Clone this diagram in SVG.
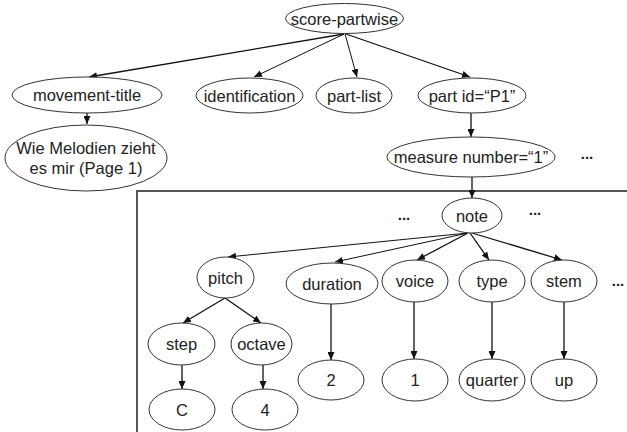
<svg xmlns="http://www.w3.org/2000/svg" width="627" height="432" viewBox="0 0 627 432">
<style>
  .n ellipse { fill: #ffffff; stroke: #333333; stroke-width: 1; }
  .n text, .dots { font-family: "Liberation Sans", Arial, sans-serif; font-size: 16.5px; fill: #222222; text-anchor: middle; }
  .dots { font-weight: bold; font-size: 15px; }
  .c line { stroke: #111111; stroke-width: 1.3; marker-end: url(#ah); }
  .c line.thin { stroke-width: 1; }
  .box { fill: none; stroke: #555555; stroke-width: 2; }
</style>
<defs>
  <marker id="ah" markerUnits="userSpaceOnUse" markerWidth="9" markerHeight="7" refX="8" refY="3.5" orient="auto">
    <path d="M0,0 L8,3.5 L0,7 z" fill="#111111"/>
  </marker>
</defs>
<rect width="627" height="432" fill="#ffffff"/>
<path class="box" d="M137,432 L137,191 L627,191"/>
<g class="c" id="connectors">
  <line x1="344" y1="34" x2="89" y2="77"/>
  <line class="thin" x1="344" y1="34" x2="254" y2="77"/>
  <line class="thin" x1="345" y1="34" x2="357" y2="77"/>
  <line x1="346" y1="34" x2="470" y2="77"/>
  <line x1="87" y1="113" x2="87" y2="124"/>
  <line x1="471" y1="113" x2="471" y2="137"/>
  <line x1="472" y1="177" x2="472" y2="198"/>
  <line class="thin" x1="468" y1="233" x2="228" y2="257"/>
  <line class="thin" x1="468" y1="233" x2="335" y2="262"/>
  <line x1="468" y1="233" x2="417" y2="260"/>
  <line x1="470" y1="233" x2="489" y2="260"/>
  <line x1="472" y1="233" x2="562" y2="260"/>
  <line x1="225" y1="298" x2="183" y2="323"/>
  <line x1="225" y1="298" x2="261" y2="323"/>
  <line x1="182" y1="365" x2="182" y2="389"/>
  <line x1="263" y1="365" x2="263" y2="389"/>
  <line x1="331" y1="304" x2="331" y2="360"/>
  <line x1="414" y1="302" x2="414" y2="359"/>
  <line x1="492" y1="302" x2="492" y2="359"/>
  <line x1="564" y1="302" x2="564" y2="359"/>
</g>
<g class="n" id="score-partwise"><ellipse cx="344.5" cy="18.5" rx="59" ry="15"/><text x="344.5" y="24.5">score-partwise</text></g>
<g class="n" id="movement-title"><ellipse cx="87" cy="95" rx="75" ry="18"/><text x="87" y="101">movement-title</text></g>
<g class="n" id="title-value"><ellipse cx="86" cy="158" rx="81" ry="33"/><text x="86" y="154">Wie Melodien zieht</text><text x="86" y="174">es mir (Page 1)</text></g>
<g class="n" id="identification"><ellipse cx="249.5" cy="95.5" rx="53.5" ry="17.5"/><text x="249.5" y="101.5">identification</text></g>
<g class="n" id="part-list"><ellipse cx="354" cy="95.5" rx="38" ry="17.5"/><text x="354" y="101.5">part-list</text></g>
<g class="n" id="part"><ellipse cx="472" cy="95.5" rx="54" ry="17.5"/><text x="472" y="101.5">part id=“P1”</text></g>
<g class="n" id="measure"><ellipse cx="471" cy="157" rx="84" ry="20"/><text x="471" y="163">measure number=“1”</text></g>
<g class="n" id="note"><ellipse cx="472" cy="215.5" rx="30" ry="17.5"/><text x="472" y="221.5">note</text></g>
<g class="n" id="pitch"><ellipse cx="225.5" cy="277.5" rx="28.5" ry="20.5"/><text x="225.5" y="283.5">pitch</text></g>
<g class="n" id="duration"><ellipse cx="332" cy="283.5" rx="46" ry="20.5"/><text x="332" y="289.5">duration</text></g>
<g class="n" id="voice"><ellipse cx="415" cy="281" rx="33" ry="21"/><text x="415" y="287">voice</text></g>
<g class="n" id="type"><ellipse cx="492" cy="281" rx="33" ry="21"/><text x="492" y="287">type</text></g>
<g class="n" id="stem"><ellipse cx="564" cy="281" rx="33" ry="21"/><text x="564" y="287">stem</text></g>
<g class="n" id="step"><ellipse cx="181.5" cy="344" rx="33.5" ry="21"/><text x="181.5" y="350">step</text></g>
<g class="n" id="octave"><ellipse cx="261.5" cy="344" rx="30.5" ry="21"/><text x="261.5" y="350">octave</text></g>
<g class="n" id="c-value"><ellipse cx="182" cy="409.5" rx="33" ry="20.5"/><text x="182" y="415.5">C</text></g>
<g class="n" id="octave-value"><ellipse cx="265" cy="409.5" rx="33" ry="20.5"/><text x="265" y="415.5">4</text></g>
<g class="n" id="duration-value"><ellipse cx="331" cy="380" rx="33" ry="20"/><text x="331" y="386">2</text></g>
<g class="n" id="voice-value"><ellipse cx="415" cy="380" rx="33" ry="21"/><text x="415" y="386">1</text></g>
<g class="n" id="type-value"><ellipse cx="492" cy="380" rx="33" ry="21"/><text x="492" y="386">quarter</text></g>
<g class="n" id="stem-value"><ellipse cx="564" cy="380" rx="33" ry="21"/><text x="564" y="386">up</text></g>
<text class="dots" x="587" y="159">...</text>
<text class="dots" x="404" y="220">...</text>
<text class="dots" x="535" y="215">...</text>
<text class="dots" x="618" y="286">...</text>
</svg>
